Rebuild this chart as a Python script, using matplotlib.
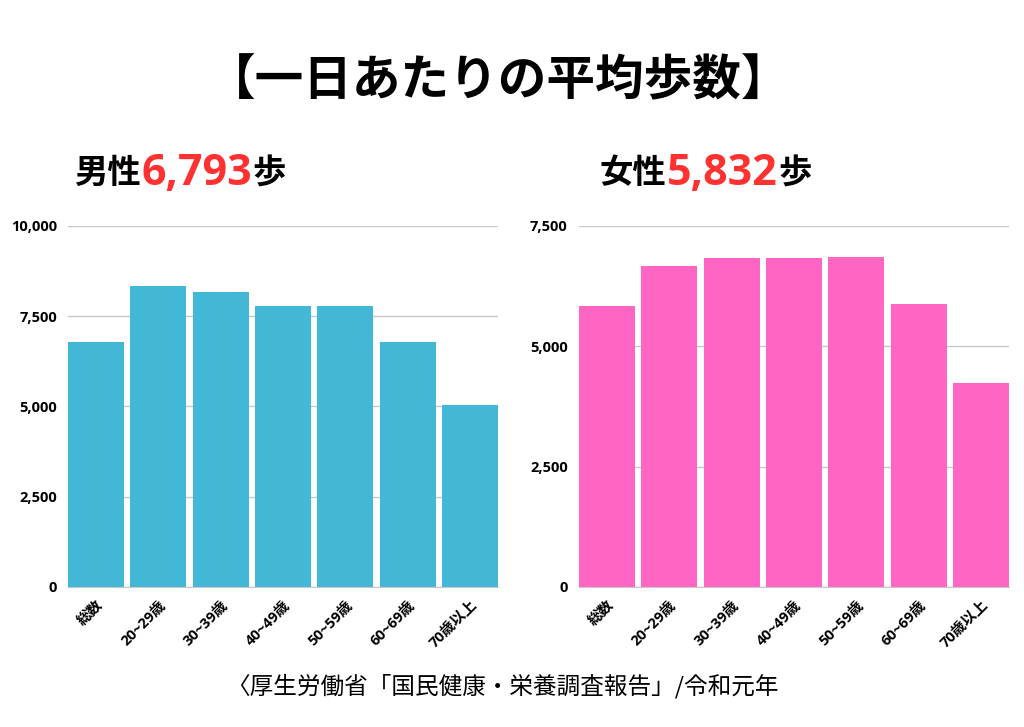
import matplotlib
matplotlib.use("Agg")
import matplotlib.pyplot as plt
from matplotlib.ticker import FuncFormatter

plt.rcParams["font.family"] = ["Open Sans", "Noto Sans CJK JP", "DejaVu Sans"]
CJK = ["Noto Sans CJK JP", "DejaVu Sans"]

# data
categories = ["総数", "20~29歳", "30~39歳", "40~49歳", "50~59歳", "60~69歳", "70歳以上"]
male_steps = [6793, 8338, 8172, 7770, 7790, 6787, 5042]
female_steps = [5832, 6670, 6836, 6826, 6857, 5880, 4239]
male_ticks = [0, 2500, 5000, 7500, 10000]
female_ticks = [0, 2500, 5000, 7500]

BLUE = "#42B7D6"
PINK = "#FF66C4"
RED = "#FF3131"

fig = plt.figure(figsize=(10.24, 7.27), dpi=100)
fig.patch.set_facecolor("white")

fig.text(0.487, 0.889, "【一日あたりの平均歩数】", ha="center", va="center",
         fontsize=35, fontweight="bold", family=CJK)


def draw_panel(ax, values, ticks, color):
    x = range(len(values))
    ax.bar(x, values, width=0.9, color=color, zorder=2)
    ax.set_xlim(-0.45, len(values) - 0.55)
    ax.set_ylim(0, ticks[-1])
    ax.set_yticks(ticks)
    ax.yaxis.set_major_formatter(FuncFormatter(lambda v, p: f"{int(v):,}"))
    ax.set_xticks(list(x))
    ax.set_xticklabels(categories, rotation=45, ha="right", rotation_mode="anchor",
                       fontsize=10.5, fontweight="bold")
    for lab in ax.get_yticklabels():
        lab.set_fontsize(10.5)
        lab.set_fontweight("bold")
    ax.grid(axis="y", color="#c8c8c8", linewidth=1, zorder=0)
    for s in ["top", "right", "left"]:
        ax.spines[s].set_visible(False)
    ax.spines["bottom"].set_color("#c8c8c8")
    ax.tick_params(length=0, pad=8)


ax1 = fig.add_axes([0.0664, 0.1926, 0.42, 0.4966])
draw_panel(ax1, male_steps, male_ticks, BLUE)
ax2 = fig.add_axes([0.5654, 0.1926, 0.42, 0.4966])
draw_panel(ax2, female_steps, female_ticks, PINK)


def heading(x, label, value):
    # "男性" + red number + "歩", chained one after another
    t1 = fig.text(x, 0.761, label, fontsize=24, fontweight="bold", va="center",
                  family=CJK)
    num = plt.annotate(f"{value:,}", xy=(1, 0.5), xycoords=t1, va="center",
                       xytext=(1, 0), textcoords="offset points",
                       fontsize=31, fontweight="bold", color=RED,
                       family=["Open Sans", "DejaVu Sans"], annotation_clip=False)
    plt.annotate("歩", xy=(1, 0.5), xycoords=num, va="center",
                 fontsize=24, fontweight="bold", family=CJK, annotation_clip=False)


heading(0.072, "男性", male_steps[0])
heading(0.585, "女性", female_steps[0])

fig.text(0.491, 0.056, "〈厚生労働省「国民健康・栄養調査報告」/令和元年", ha="center",
         va="center", fontsize=17, family=CJK)

fig.savefig("out.png", dpi=100)
